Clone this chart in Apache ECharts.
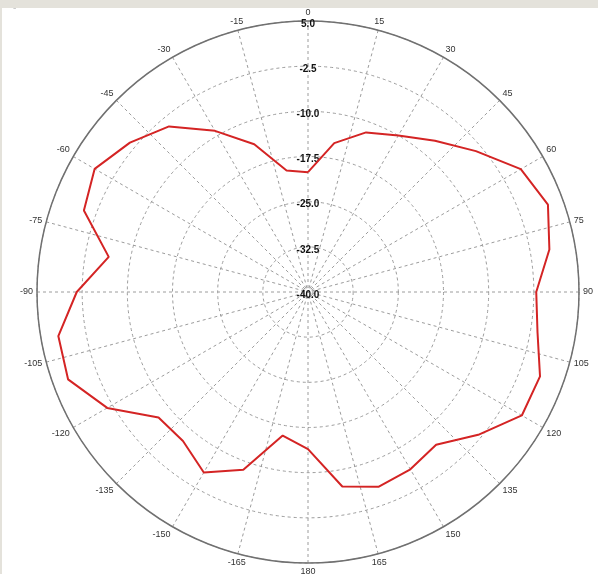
<!DOCTYPE html>
<html>
<head>
<meta charset="utf-8">
<script src="https://cdn.jsdelivr.net/npm/echarts@6/dist/echarts.min.js"></script>
<style>
  html, body { margin: 0; padding: 0; background: #e4e2db; }
  #chart { position: absolute; left: 2px; top: 8px; width: 596px; height: 566px; background: #ffffff; }
</style>
</head>
<body>
<div id="chart"></div>
<script>
// Radiation pattern: gain (dB) measured every 10 degrees, clockwise from 0 at the top
const angles = [0, 10, 20, 30, 40, 50, 60, 70, 80, 90, 100, 110, 120, 130, 140, 150, 160, 170,
                180, 190, 200, 210, 220, 230, 240, 250, 260, 270, 280, 290, 300, 310, 320, 330, 340, 350];
const gains = [-20.1, -14.9, -11.8, -10.0, -7.2, -3.6, 0.8, 2.4, 0.7, -2.1, -1.3, 1.0, 1.0, -3.1, -6.9, -6.0, -5.6, -7.2,
               -13.9, -15.8, -8.6, -5.4, -7.7, -7.6, -1.5, 2.4, 2.1, -1.6, -6.4, -0.4, 0.9, -1.4, -4.1, -9.1, -13.9, -19.5];

// Radial scale (dB) and angular tick spacing (degrees)
const gainMin = -40;
const gainMax = 5;
const gainStep = 7.5;
const angleStep = 15;

const chart = echarts.init(document.getElementById('chart'), null, { renderer: 'canvas' });

// Points are placed on a radius measured from the scale floor; labels show the dB value
const points = angles.map((a, i) => [gains[i] - gainMin, a]);
points.push([gains[0] - gainMin, 360]);

const gridLine = { color: '#9c9c9c', width: 1, type: [3, 3] };

chart.setOption({
  backgroundColor: '#ffffff',
  animation: false,
  graphic: [{
    type: 'text', left: 11, top: -6,
    style: { text: '-', fill: '#333', font: 'bold 10px "Liberation Sans"' }
  }],
  polar: { center: [306, 284], radius: 271 },
  angleAxis: {
    type: 'value',
    min: 0,
    max: 360,
    interval: angleStep,
    startAngle: 90,
    clockwise: true,
    axisLine: { show: true, lineStyle: { color: '#707070', width: 1.5 } },
    axisTick: { show: false },
    axisLabel: {
      margin: 4,
      color: '#333',
      fontSize: 9,
      fontFamily: 'Liberation Sans',
      formatter: v => (v === 360 ? '' : String(v > 180 ? v - 360 : v))
    },
    splitLine: { show: true, lineStyle: gridLine }
  },
  radiusAxis: {
    type: 'value',
    min: 0,
    max: gainMax - gainMin,
    interval: gainStep,
    axisLine: { show: false },
    axisTick: { show: false },
    axisLabel: {
      margin: 0,
      align: 'center',
      verticalAlign: 'top',
      lineHeight: 6,
      color: '#111',
      fontSize: 10,
      fontWeight: 'bold',
      fontFamily: 'Liberation Sans',
      formatter: v => (v + gainMin).toFixed(1)
    },
    splitLine: { show: true, lineStyle: gridLine }
  },
  series: [{
    type: 'line',
    coordinateSystem: 'polar',
    data: points,
    showSymbol: false,
    lineStyle: { color: '#d42424', width: 2 },
    z: 5
  }]
});
</script>
</body>
</html>
